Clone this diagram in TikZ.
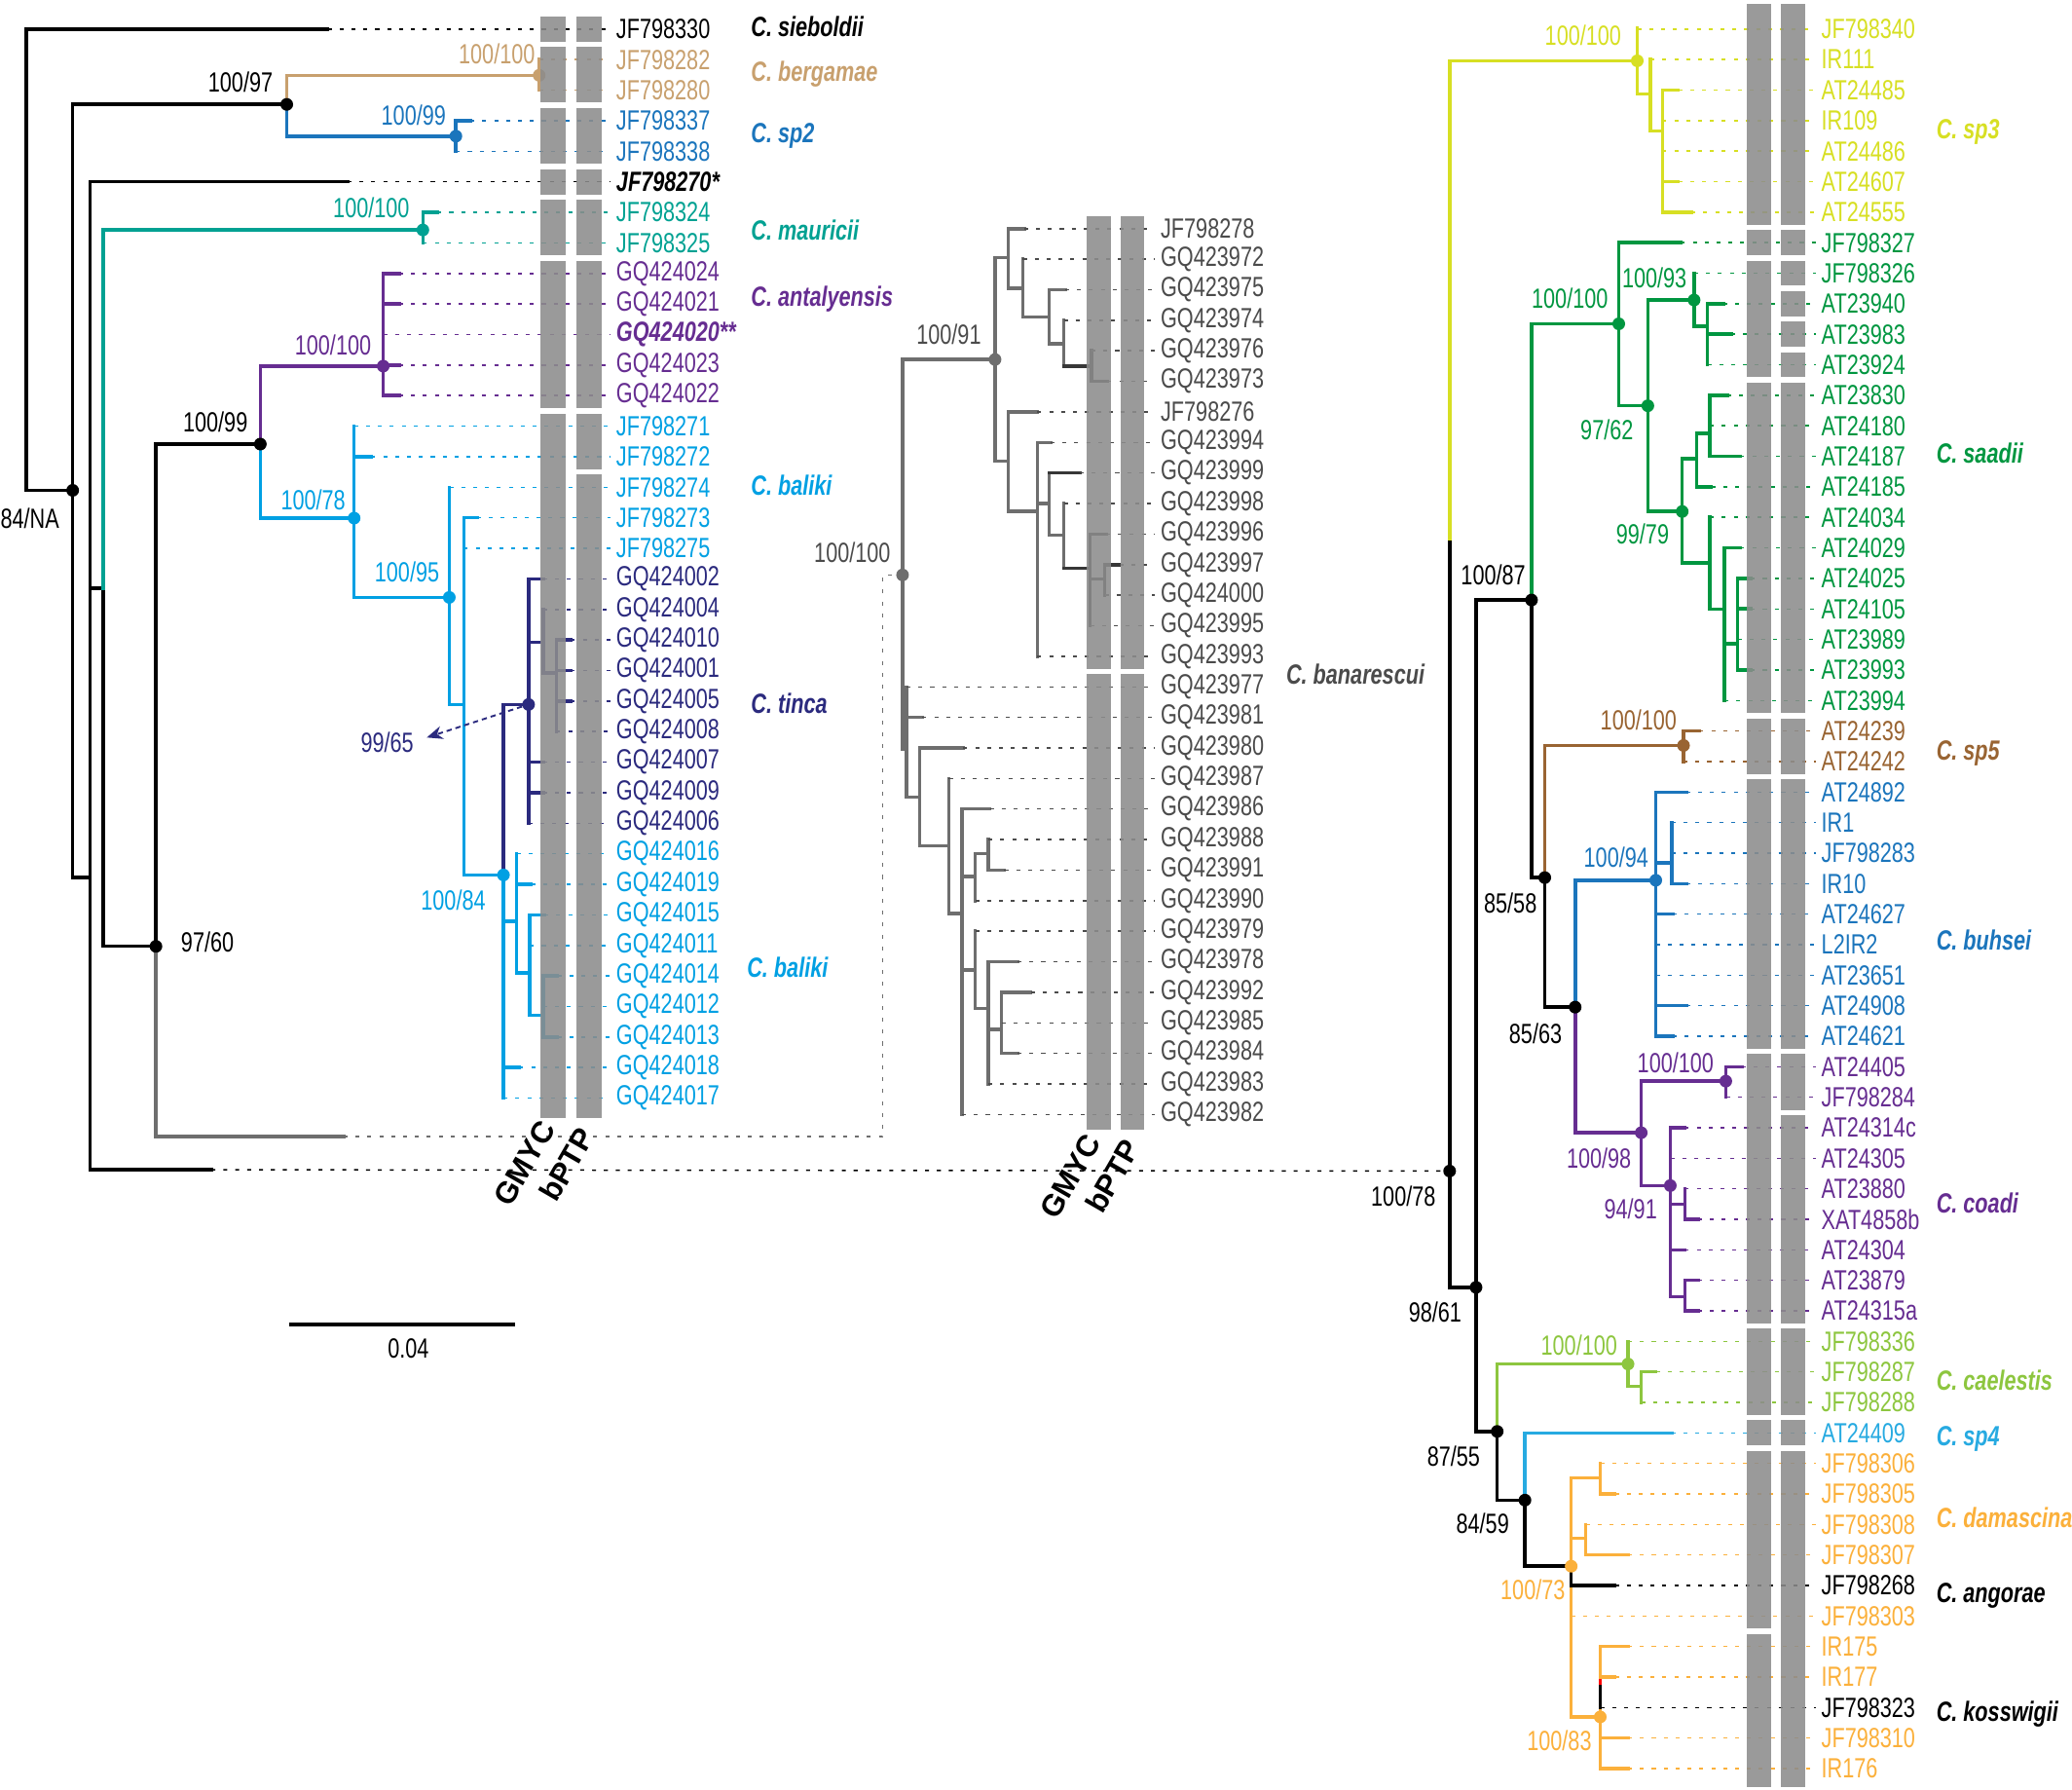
\documentclass[tikz,border=0pt]{standalone}
\usepackage{fontspec}
\setmainfont{Liberation Sans}[FakeStretch=0.76]
\newfontfamily\widefont{Liberation Sans}
\usetikzlibrary{arrows.meta}
\definecolor{cBerg}{RGB}{200,160,110}
\definecolor{cSpTwo}{RGB}{27,117,188}
\definecolor{cMaur}{RGB}{0,161,146}
\definecolor{cAnta}{RGB}{102,45,145}
\definecolor{cBal}{RGB}{0,160,227}
\definecolor{cTin}{RGB}{43,42,126}
\definecolor{cBan}{RGB}{110,110,110}
\definecolor{cBanD}{RGB}{55,55,55}
\definecolor{cBanT}{RGB}{75,75,75}
\definecolor{cSpThree}{RGB}{215,223,35}
\definecolor{cSaad}{RGB}{0,150,64}
\definecolor{cSpFive}{RGB}{153,100,50}
\definecolor{cCoa}{RGB}{102,45,145}
\definecolor{cCael}{RGB}{141,198,63}
\definecolor{cSpFour}{RGB}{39,170,225}
\definecolor{cDam}{RGB}{251,176,59}
\definecolor{barGray}{RGB}{140,140,140}
\tikzstyle{br} = [line width=1.3pt, line cap=rect]
\tikzstyle{tipline} = [line width=0.55pt, dash pattern=on 1.5pt off 3pt]
\tikzstyle{acc} = [anchor=west, inner sep=0pt, font=\fontsize{10.5}{12}\selectfont]
\tikzstyle{sup} = [inner sep=0pt, font=\fontsize{10.5}{12}\selectfont]
\tikzstyle{spname} = [anchor=west, inner sep=0pt, font=\fontsize{10.5}{12}\selectfont\bfseries\itshape]
\tikzstyle{dot} = [circle, fill, inner sep=0pt, minimum size=4.8pt]
\tikzstyle{gbar} = [fill=barGray, opacity=0.88]
\tikzstyle{method} = [rotate=60, inner sep=0pt, font=\widefont\fontsize{11.5}{13}\selectfont\bfseries]

\begin{document}
\begin{tikzpicture}[x=0.5pt, y=-0.5pt]
\useasboundingbox (0,0) rectangle (1568,1354);

% left tree
\draw[br] (20,22) |- (55,371);
\draw[br] (55,79) -- (55,664) -- (68,664);
\draw[br] (55,79) -- (217,79);
\draw[br] (68,137.6) -- (68,885) -- (160,885);
\draw[br] (68,445) -- (78,445) -- (78,716) -- (118,716);
\draw[br, cMaur] (78,445) -- (78,174) -- (320,174);
\draw[br] (118,716) -- (118,336) -- (197,336);
\draw[br, cBan] (118,716) -- (118,860) -- (260,860);
\draw[br, cBerg] (217,79) |- (408,57);
\draw[br, cBerg] (408,45.1) -- (408,68.2);
\draw[br, cSpTwo] (217,79) |- (345,103);
\draw[br, cSpTwo] (345,91.3) -- (345,114.4);
\draw[br, cMaur] (320,160.7) -- (320,183.8);
\draw[br, cAnta] (197,336) |- (290,277);
\draw[br, cAnta] (290,206.9) -- (290,299.3);
\draw[br, cBal] (197,336) |- (268,392);
\draw[br, cBal] (268,322.4) -- (268,452) -- (340,452);
\draw[br, cBal] (340,368.7) -- (340,533) -- (351,533);
\draw[br, cBal] (351,391.8) -- (351,662) -- (381,662) -- (381,830.9);
\draw[br, cBal] (381,697) -- (391,697);
\draw[br, cBal] (391,646) -- (391,736) -- (401,736);
\draw[br, cBal] (401,692.2) -- (401,768) -- (411,768);
\draw[br, cBal] (411,738.4) -- (411,784.6);
\draw[br, cTin] (381,662) -- (381,533) -- (400,533);
\draw[br, cTin] (400,438) -- (400,622.9);
\draw[br, cTin] (400,486) -- (411,486);
\draw[br, cTin] (411,461.1) -- (411,509) -- (421,509);
\draw[br, cTin] (421,484.2) -- (421,553.5);

\foreach \i/\xv/\xs/\lab/\col in {
  0/20/248/JF798330/black, 1/408/408/JF798282/cBerg, 2/408/408/JF798280/cBerg,
  3/345/356/JF798337/cSpTwo, 4/345/345/JF798338/cSpTwo,
  5/68/263/{\bfseries\itshape JF798270*}/black,
  6/320/331/JF798324/cMaur, 7/320/320/JF798325/cMaur,
  8/290/302/GQ424024/cAnta, 9/290/302/GQ424021/cAnta,
  10/290/290/{\bfseries\itshape GQ424020**}/cAnta,
  11/290/302/GQ424023/cAnta, 12/290/302/GQ424022/cAnta,
  13/268/268/JF798271/cBal, 14/268/281/JF798272/cBal, 15/340/340/JF798274/cBal,
  16/351/361/JF798273/cBal, 17/351/351/JF798275/cBal,
  18/400/411/GQ424002/cTin, 19/411/411/GQ424004/cTin, 20/421/432/GQ424010/cTin,
  21/421/432/GQ424001/cTin, 22/421/432/GQ424005/cTin, 23/421/421/GQ424008/cTin,
  24/400/411/GQ424007/cTin, 25/400/411/GQ424009/cTin, 26/400/400/GQ424006/cTin,
  27/391/391/GQ424016/cBal, 28/391/402/GQ424019/cBal, 29/401/412/GQ424015/cBal,
  30/401/401/GQ424011/cBal, 31/411/422/GQ424014/cBal, 32/411/411/GQ424012/cBal,
  33/411/422/GQ424013/cBal, 34/381/393/GQ424018/cBal, 35/381/381/GQ424017/cBal}{
  \pgfmathsetmacro\yy{22+23.11*\i}
  \node[acc, text=\col] (la\i) at (466,\yy) {\lab};
  \draw[br, \col] (\xv,\yy) -- (\xs,\yy);
  \draw[tipline, \col] (\xs,\yy) -- ([xshift=-2pt]la\i.west);
}

% middle tree
\draw[br, cBan] (683,272) -- (683,567) -- (686,567);
\draw[br, cBan] (683,272) -- (753,272);
\draw[br, cBan] (686,519.7) -- (686,603) -- (696,603);
\draw[br, cBan] (696,565.9) -- (696,640) -- (718,640);
\draw[br, cBan] (718,589) -- (718,691) -- (728,691);
\draw[br, cBan] (728,612.1) -- (728,843.2);
\draw[br, cBan] (728,663) -- (738,663);
\draw[br, cBan] (738,681.4) -- (738,646) -- (748,646);
\draw[br, cBan] (748,635.2) -- (748,658.3);
\draw[br, cBan] (728,734) -- (738,734);
\draw[br, cBan] (738,704.5) -- (738,763) -- (748,763);
\draw[br, cBan] (748,727.6) -- (748,820.1);
\draw[br, cBan] (748,779) -- (758,779);
\draw[br, cBan] (758,750.8) -- (758,797);
\draw[br, cBan] (753,349) -- (753,195) -- (763,195);
\draw[br, cBan] (763,173) -- (763,218) -- (774,218);
\draw[br, cBan] (774,196.1) -- (774,240) -- (794,240);
\draw[br, cBan] (794,219.2) -- (794,260) -- (805,260);
\draw[br, cBan] (805,242.3) -- (805,277);
\draw[br, cBanD] (805,277) -- (826,277);
\draw[br, cBanD] (826,265.4) -- (826,288.6);
\draw[br, cBan] (753,349) -- (763,349);
\draw[br, cBan] (763,311.7) -- (763,387) -- (785,387);
\draw[br, cBan] (785,334.8) -- (785,496.5);
\draw[br, cBan] (785,381) -- (794,381);
\draw[br, cBan] (794,357.9) -- (794,405) -- (805,405);
\draw[br, cBan] (805,381) -- (805,430);
\draw[br, cBanD] (805,430) -- (825,430);
\draw[br, cBanD] (825,404.1) -- (825,473.4);
\draw[br, cBanD] (825,438) -- (836,438);
\draw[br, cBanD] (836,427.2) -- (836,450.3);

\foreach \i/\xv/\xs/\lab/\col in {
  0/763/775/JF798278/cBan, 1/774/774/GQ423972/cBan, 2/794/806/GQ423975/cBan,
  3/805/805/GQ423974/cBan, 4/826/826/GQ423976/cBanD, 5/826/838/GQ423973/cBanD,
  6/763/785/JF798276/cBan, 7/785/795/GQ423994/cBan, 8/794/817/GQ423999/cBanD,
  9/805/805/GQ423998/cBan, 10/825/837/GQ423996/cBanD, 11/836/847/GQ423997/cBanD,
  12/836/836/GQ424000/cBanD, 13/825/825/GQ423995/cBanD, 14/785/785/GQ423993/cBan,
  15/686/686/GQ423977/cBan, 16/686/698/GQ423981/cBan, 17/696/729/GQ423980/cBan,
  18/718/718/GQ423987/cBan, 19/728/749/GQ423986/cBan, 20/748/748/GQ423988/cBan,
  21/748/760/GQ423991/cBan, 22/738/738/GQ423990/cBan, 23/738/738/GQ423979/cBan,
  24/748/770/GQ423978/cBan, 25/758/780/GQ423992/cBan, 26/758/758/GQ423985/cBan,
  27/758/770/GQ423984/cBan, 28/748/748/GQ423983/cBan, 29/728/728/GQ423982/cBan}{
  \pgfmathsetmacro\yy{173+23.11*\i}
  \node[acc, text=cBanT] (lm\i) at (878,\yy) {\lab};
  \draw[br, \col] (\xv,\yy) -- (\xs,\yy);
  \draw[tipline, cBanT] (\xs,\yy) -- ([xshift=-2pt]lm\i.west);
}

% right tree
\draw[br] (1097,408) -- (1097,974) -- (1117,974);
\draw[br] (1117,454) -- (1117,1083) -- (1133,1083);
\draw[br] (1117,454) -- (1159,454) -- (1159,664) -- (1169,664) -- (1169,762) -- (1192,762);
\draw[br] (1133,1083) -- (1133,1135) -- (1154,1135) -- (1154,1185) -- (1189,1185) -- (1189,1199.6);
\draw[br, cSpThree] (1097,408) -- (1097,46) -- (1239,46);
\draw[br, cSpThree] (1239,21) -- (1239,71) -- (1249,71);
\draw[br, cSpThree] (1249,45.1) -- (1249,99) -- (1258,99);
\draw[br, cSpThree] (1258,68.2) -- (1258,160.5);
\draw[br, cSaad] (1159,454) -- (1159,245) -- (1225,245);
\draw[br, cSaad] (1225,183.6) -- (1225,307) -- (1247,307);
\draw[br, cSaad] (1247,387) -- (1247,227) -- (1282,227);
\draw[br, cSaad] (1282,206.7) -- (1282,247) -- (1292,247);
\draw[br, cSaad] (1292,229.8) -- (1292,276);
\draw[br, cSaad] (1247,387) -- (1273,387);
\draw[br, cSaad] (1273,426) -- (1273,347) -- (1284,347);
\draw[br, cSaad] (1284,368.4) -- (1284,328) -- (1294,328);
\draw[br, cSaad] (1294,299.1) -- (1294,345.3);
\draw[br, cSaad] (1273,426) -- (1294,426);
\draw[br, cSaad] (1294,391.4) -- (1294,461) -- (1305,461);
\draw[br, cSaad] (1305,414.5) -- (1305,530);
\draw[br, cSaad] (1305,487) -- (1315,487);
\draw[br, cSaad] (1315,437.6) -- (1315,506.9);
\draw[br, cSpFive] (1169,664) -- (1169,564) -- (1274,564);
\draw[br, cSpFive] (1274,553.1) -- (1274,576.2);
\draw[br, cSpTwo] (1192,762) -- (1192,666) -- (1253,666);
\draw[br, cSpTwo] (1253,599.3) -- (1253,784);
\draw[br, cSpTwo] (1253,653) -- (1265,653);
\draw[br, cSpTwo] (1265,622.3) -- (1265,668.5);
\draw[br, cCoa] (1192,762) -- (1192,857) -- (1242,857);
\draw[br, cCoa] (1242,897) -- (1242,818) -- (1306,818);
\draw[br, cCoa] (1306,807.1) -- (1306,830.2);
\draw[br, cCoa] (1242,897) -- (1264,897);
\draw[br, cCoa] (1264,853.2) -- (1264,981);
\draw[br, cCoa] (1264,911) -- (1275,911);
\draw[br, cCoa] (1275,899.4) -- (1275,922.5);
\draw[br, cCoa] (1264,981) -- (1275,981);
\draw[br, cCoa] (1275,968.7) -- (1275,991.8);
\draw[br, cCael] (1133,1083) -- (1133,1032) -- (1232,1032);
\draw[br, cCael] (1232,1014.9) -- (1232,1049) -- (1242,1049);
\draw[br, cCael] (1242,1038) -- (1242,1061.1);
\draw[br, cSpFour] (1154,1135) -- (1154,1084.1);
\draw[br, cDam] (1189,1185) -- (1189,1118) -- (1211,1118);
\draw[br, cDam] (1189,1199.6) -- (1189,1299) -- (1211,1299);
\draw[br, cDam] (1211,1107.2) -- (1211,1130.3);
\draw[br, cDam] (1189,1164) -- (1200,1164);
\draw[br, cDam] (1200,1153.4) -- (1200,1176.5);
\draw[br, cDam] (1211,1245.8) -- (1211,1270);
\draw[br, cDam] (1211,1292) -- (1211,1338.1);
\draw[br, red] (1211,1270) -- (1211,1276);
\draw[br] (1211,1276) -- (1211,1292);

\foreach \i/\xv/\xs/\lab/\col in {
  0/1239/1239/JF798340/cSpThree, 1/1249/1249/IR111/cSpThree, 2/1258/1270/AT24485/cSpThree,
  3/1258/1258/IR109/cSpThree, 4/1258/1258/AT24486/cSpThree, 5/1258/1270/AT24607/cSpThree,
  6/1258/1280/AT24555/cSpThree,
  7/1225/1272/JF798327/cSaad, 8/1282/1282/JF798326/cSaad, 9/1292/1304/AT23940/cSaad,
  10/1292/1310/AT23983/cSaad, 11/1292/1292/AT23924/cSaad, 12/1294/1307/AT23830/cSaad,
  13/1294/1294/AT24180/cSaad, 14/1294/1317/AT24187/cSaad, 15/1284/1295/AT24185/cSaad,
  16/1294/1294/AT24034/cSaad, 17/1305/1317/AT24029/cSaad, 18/1315/1325/AT24025/cSaad,
  19/1315/1325/AT24105/cSaad, 20/1315/1315/AT23989/cSaad, 21/1315/1325/AT23993/cSaad,
  22/1305/1305/AT23994/cSaad,
  23/1274/1286/AT24239/cSpFive, 24/1274/1274/AT24242/cSpFive,
  25/1253/1276/AT24892/cSpTwo, 26/1265/1265/IR1/cSpTwo, 27/1265/1265/JF798283/cSpTwo,
  28/1265/1276/IR10/cSpTwo, 29/1253/1266/AT24627/cSpTwo, 30/1253/1253/L2IR2/cSpTwo,
  31/1253/1253/AT23651/cSpTwo, 32/1253/1276/AT24908/cSpTwo, 33/1253/1266/AT24621/cSpTwo,
  34/1306/1318/AT24405/cCoa, 35/1306/1306/JF798284/cCoa, 36/1264/1275/AT24314c/cCoa,
  37/1264/1264/AT24305/cCoa, 38/1275/1275/AT23880/cCoa, 39/1275/1285/XAT4858b/cCoa,
  40/1264/1275/AT24304/cCoa, 41/1275/1285/AT23879/cCoa, 42/1275/1285/AT24315a/cCoa,
  43/1232/1232/JF798336/cCael, 44/1242/1253/JF798287/cCael, 45/1242/1242/JF798288/cCael,
  46/1154/1265/AT24409/cSpFour,
  47/1211/1211/JF798306/cDam, 48/1211/1222/JF798305/cDam, 49/1200/1200/JF798308/cDam,
  50/1200/1232/JF798307/cDam, 51/1189/1222/JF798268/black, 52/1189/1189/JF798303/cDam,
  53/1211/1232/IR175/cDam, 54/1211/1222/IR177/cDam, 55/1211/1211/JF798323/black,
  56/1211/1232/JF798310/cDam, 57/1211/1232/IR176/cDam}{
  \pgfmathsetmacro\yy{22+23.09*\i}
  \node[acc, text=\col] (lr\i) at (1378,\yy) {\lab};
  \draw[br, \col] (\xv,\yy) -- (\xs,\yy);
  \draw[tipline, \col] (\xs,\yy) -- ([xshift=-2pt]lr\i.west);
}

% node dots
\node[dot, black] (dL84) at (55,371) {};
\node[dot, black] (dL97) at (217,79) {};
\node[dot, cBerg] (dBerg) at (408,57) {};
\node[dot, cSpTwo] (dSpTwo) at (345,103) {};
\node[dot, cMaur] (dMaur) at (320,174) {};
\node[dot, black] (dL99) at (197,336) {};
\node[dot, cAnta] (dAnta) at (290,277) {};
\node[dot, cBal] (dBalA) at (268,392) {};
\node[dot, cBal] (dBalB) at (340,452) {};
\node[dot, cBal] (dBalC) at (381,662) {};
\node[dot, cTin] (dTin) at (400,533) {};
\node[dot, black] (dL60) at (118,716) {};
\node[dot, cBan] (dBan) at (683,435) {};
\node[dot, cBan] (dBanB) at (753,272) {};
\node[dot, black] (dR78) at (1097,886) {};
\node[dot, black] (dR61) at (1117,974) {};
\node[dot, black] (dR87) at (1159,454) {};
\node[dot, black] (dR58) at (1169,664) {};
\node[dot, black] (dR63) at (1192,762) {};
\node[dot, black] (dR55) at (1133,1083) {};
\node[dot, black] (dR59) at (1154,1135) {};
\node[dot, cSpThree] (dSpThree) at (1239,46) {};
\node[dot, cSaad] (dSaadA) at (1225,245) {};
\node[dot, cSaad] (dSaadB) at (1247,307) {};
\node[dot, cSaad] (dSaadC) at (1282,227) {};
\node[dot, cSaad] (dSaadD) at (1273,387) {};
\node[dot, cSpFive] (dSpFive) at (1274,564) {};
\node[dot, cSpTwo] (dBuh) at (1253,666) {};
\node[dot, cCoa] (dCoaA) at (1306,818) {};
\node[dot, cCoa] (dCoaB) at (1242,857) {};
\node[dot, cCoa] (dCoaC) at (1264,897) {};
\node[dot, cCael] (dCael) at (1232,1032) {};
\node[dot, cDam] (dDamA) at (1189,1185) {};
\node[dot, cDam] (dDamB) at (1211,1299) {};

% long links
\draw[tipline, cBan] (260,860) -| (668,435) -- (dBan);
\draw[tipline] (160,885) -- (dR78);
\coordinate (a9965) at (323,558);
\draw[cTin, line width=0.7pt, dash pattern=on 2pt off 1.5pt, -{Stealth[length=6pt, width=5pt]}] (dTin) -- (a9965);

% GMYC and bPTP bars
\foreach \ya/\yb in {12.5/31.5, 35.6/77.7, 81.8/123.9, 128.1/147.1, 151.2/193.3, 197.4/308.8, 312.9/846}
  \fill[gbar] (409,\ya) rectangle (428,\yb);
\foreach \ya/\yb in {12.5/31.5, 35.6/77.7, 81.8/123.9, 128.1/147.1, 151.2/193.3, 197.4/308.8, 312.9/355, 359.2/846}
  \fill[gbar] (436,\ya) rectangle (455,\yb);
\foreach \ya/\yb in {163.5/506, 510.2/855}{
  \fill[gbar] (822,\ya) rectangle (841,\yb);
  \fill[gbar] (848,\ya) rectangle (866,\yb);
}
\foreach \ya/\yb in {3/170, 174.1/193.1, 197.2/285.5, 289.6/539.5, 543.6/585.7, 589.8/793.5,
  797.6/1001.3, 1005.4/1070.6, 1074.6/1093.6, 1097.7/1232.2, 1236.3/1352}
  \fill[gbar] (1322,\ya) rectangle (1340,\yb);
\foreach \ya/\yb in {3/170, 174.1/193.1, 197.2/216.2, 220.3/239.3, 243.4/262.4, 266.5/285.5,
  289.6/539.5, 543.6/585.7, 589.8/793.5, 797.6/839.7, 843.7/1001.3, 1005.4/1070.6,
  1074.6/1093.6, 1097.7/1352}
  \fill[gbar] (1348,\ya) rectangle (1366,\yb);

\node[method] (gmycL) at (397,880) {GMYC};
\node[method] (bptpL) at (429,881) {bPTP};
\node[method] (gmycM) at (810,890) {GMYC};
\node[method] (bptpM) at (842,890) {bPTP};

% support values
\node[sup, anchor=west] (s84) at (0,392) {84/NA};
\node[sup] (s97) at (182,62) {100/97};
\node[sup, cBerg] (sBerg) at (376,41) {100/100};
\node[sup, cSpTwo] (sSpTwo) at (313,87) {100/99};
\node[sup, cMaur] (sMaur) at (281,157) {100/100};
\node[sup, cAnta] (sAnta) at (252,261) {100/100};
\node[sup] (s99) at (163,319) {100/99};
\node[sup, cBal] (sBalA) at (237,378) {100/78};
\node[sup, cBal] (sBalB) at (308,433) {100/95};
\node[sup, cTin] (sTin) at (293,562) {99/65};
\node[sup, cBal] (sBalC) at (343,681) {100/84};
\node[sup] (s60) at (157,713) {97/60};
\node[sup, cBanT] (sBan) at (645,418) {100/100};
\node[sup, cBanT] (sBanB) at (718,253) {100/91};
\node[sup, cSpThree] (sSpThree) at (1198,27) {100/100};
\node[sup, cSaad] (sSaadA) at (1188,226) {100/100};
\node[sup, cSaad] (sSaadC) at (1252,210) {100/93};
\node[sup, cSaad] (sSaadB) at (1216,325) {97/62};
\node[sup, cSaad] (sSaadD) at (1243,404) {99/79};
\node[sup] (sR87) at (1130,435) {100/87};
\node[sup] (sR78) at (1062,905) {100/78};
\node[sup, cSpFive] (sSpFive) at (1240,545) {100/100};
\node[sup] (sR58) at (1143,683) {85/58};
\node[sup, cSpTwo] (sBuh) at (1223,649) {100/94};
\node[sup] (sR63) at (1162,782) {85/63};
\node[sup, cCoa] (sCoaA) at (1268,804) {100/100};
\node[sup, cCoa] (sCoaB) at (1210,876) {100/98};
\node[sup, cCoa] (sCoaC) at (1234,915) {94/91};
\node[sup] (sR61) at (1086,993) {98/61};
\node[sup, cCael] (sCael) at (1195,1018) {100/100};
\node[sup] (sR55) at (1100,1102) {87/55};
\node[sup] (sR59) at (1122,1153) {84/59};
\node[sup, cDam] (sDamA) at (1160,1203) {100/73};
\node[sup, cDam] (sDamB) at (1180,1317) {100/83};

% species names
\node[spname] (nSie) at (568,20) {C. sieboldii};
\node[spname, cBerg] (nBerg) at (568,56) {C. bergamae};
\node[spname, cSpTwo] (nSpTwo) at (568,103) {C. sp2};
\node[spname, cMaur] (nMaur) at (568,174) {C. mauricii};
\node[spname, cAnta] (nAnta) at (568,226) {C. antalyensis};
\node[spname, cBal] (nBalA) at (568,367) {C. baliki};
\node[spname, cTin] (nTin) at (568,532) {C. tinca};
\node[spname, cBal] (nBalB) at (565,732) {C. baliki};
\node[spname, cBanT] (nBan) at (973,510) {C. banarescui};
\node[spname, cSpThree] (nSpThree) at (1465,100) {C. sp3};
\node[spname, cSaad] (nSaad) at (1465,343) {C. saadii};
\node[spname, cSpFive] (nSpFive) at (1465,570) {C. sp5};
\node[spname, cSpTwo] (nBuh) at (1465,711) {C. buhsei};
\node[spname, cCoa] (nCoa) at (1465,910) {C. coadi};
\node[spname, cCael] (nCael) at (1465,1044) {C. caelestis};
\node[spname, cSpFour] (nSpFour) at (1465,1089) {C. sp4};
\node[spname, cDam] (nDam) at (1465,1148) {C. damascina};
\node[spname] (nAng) at (1465,1207) {C. angorae};
\node[spname] (nKos) at (1465,1297) {C. kosswigii};

% scale bar
\coordinate (sbA) at (219,1002);
\coordinate (sbB) at (390,1002);
\draw[line width=1.2pt] (sbA) -- (sbB);
\node[sup] (sbLab) at (309,1020) {0.04};
\end{tikzpicture}
\end{document}
